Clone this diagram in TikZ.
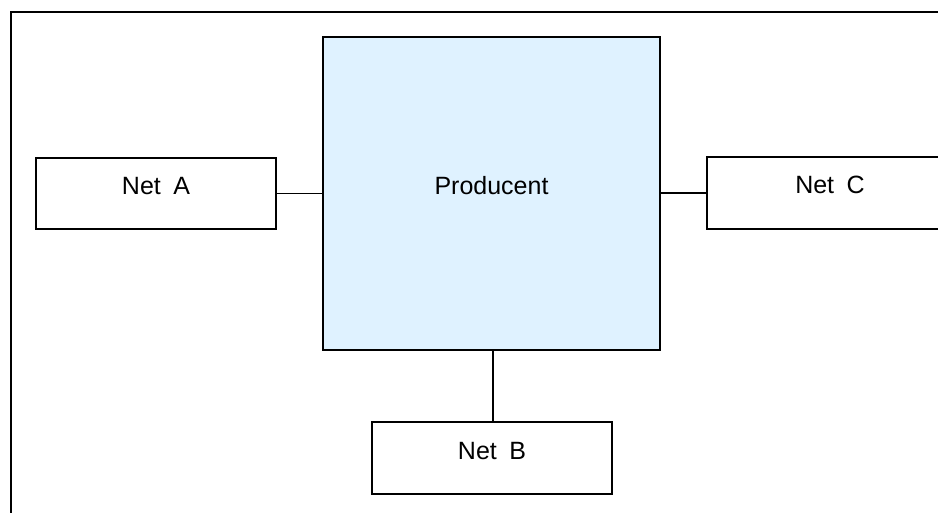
\documentclass[tikz,border=0pt]{standalone}
\usepackage{fontspec}
\setmainfont{Liberation Sans}
\definecolor{prodfill}{RGB}{223,242,255}
\begin{document}
\begin{tikzpicture}[x=1pt,y=-1pt,
  box/.style={draw=black, line width=2pt, rectangle, inner sep=0pt,
    font=\fontsize{25}{30}\selectfont, text height=18pt, text depth=16pt},
  conn/.style={draw=black, line width=1.6pt},
  frame/.style={draw=black, line width=2pt}]
\useasboundingbox (0,0) rectangle (938,513);
\clip (0,0) rectangle (938,513);
\draw[frame] (10.5,520) -- (10.5,12.5) -- (945,12.5);
\node[box, fill=prodfill, minimum width=337pt, minimum height=313pt] (prod) at (491.5,193.5) {Producent};
\node[box, minimum width=240pt, minimum height=71pt] (neta) at (156,193.5) {Net\hspace{0.5em}A};
\node[box, minimum width=246pt, minimum height=72pt] (netc) at (830,193) {Net\hspace{0.5em}C};
\node[box, minimum width=240pt, minimum height=72pt] (netb) at (492,458) {Net\hspace{0.5em}B};
\draw[conn] (neta.east) -- (prod.west |- neta.east);
\draw[conn] (prod.east |- netc.west) -- (netc.west);
\draw[conn] (prod.south -| 493,0) -- (netb.north -| 493,0);
\end{tikzpicture}
\end{document}
